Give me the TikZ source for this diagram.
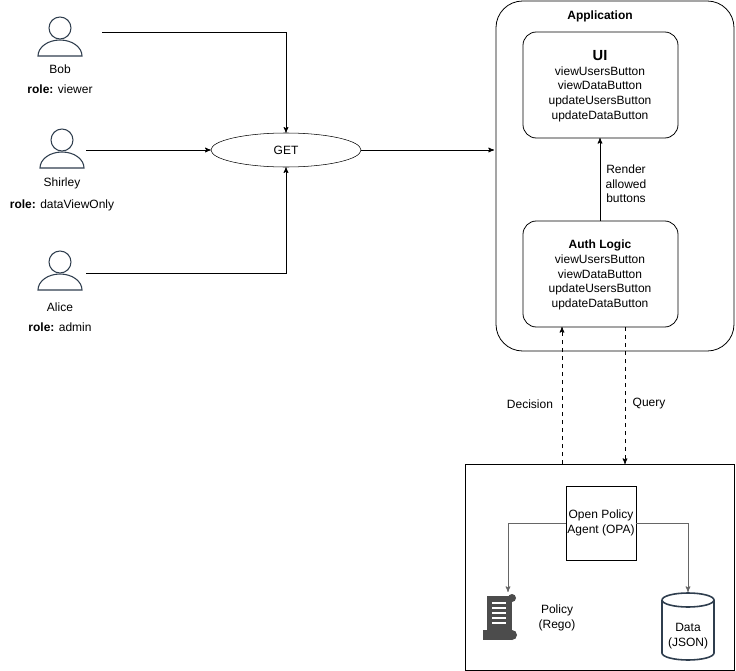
\documentclass[tikz,border=0pt]{standalone}
\usepackage{fontspec}
\setmainfont{Liberation Sans}
\usetikzlibrary{positioning}
\usetikzlibrary{arrows}
\usetikzlibrary{shapes.geometric}
\definecolor{iconc}{HTML}{2F3E4E}

\begin{document}
\begin{tikzpicture}
			[x=0.75pt,y=-0.75pt,
			 every node/.style={font=\fontsize{9}{11}\selectfont,inner sep=0},
			 connect/.style={semithick,->,>=stealth'},
			 opa/.style={semithick,->,>=stealth',draw=black!60},
			 box/.style={draw,rounded corners=10pt,semithick},
			 txt/.style={align=center}]
			\useasboundingbox (0,0) rectangle (736,671);
			% users
			\foreach \nm/\px/\py in {bob/60/28,shirley/62/140,alice/60/262}{
			  \draw[iconc,thick] (\px,\py) circle (11);
			  \draw[iconc,thick] (\px-22,\py+28) arc (180:360:22 and 16) -- cycle;
			  \coordinate (\nm) at (\px,\py);
			}
			\node (bobn) at (60,69) {Bob};
			\node (bobr) [below=8pt of bobn] {\textbf{role:} viewer};
			\node (shn) at (62,183) {Shirley};
			\node (shr) [below=8pt of shn] {\textbf{role:} dataViewOnly};
			\node (aln) at (60,307) {Alice};
			\node (alr) [below=8pt of aln] {\textbf{role:} admin};
			\coordinate (bobo) at (102,32);
			\coordinate (sho) at (86,150);
			\coordinate (alo) at (86,273);

			\node (get) [draw,ellipse,minimum width=150*0.75pt,minimum height=34*0.75pt] at (286,150) {GET};
			\draw [connect] (bobo) -| (get.north);
			\draw [connect] (sho) -- (get.west);
			\draw [connect] (alo) -| (get.south);

			% application
			\draw [box,rounded corners=20pt] (496,1) rectangle (734,351);
			\coordinate (app) at (494,150);
			\node (apptitle) at (600,16) {\textbf{Application}};
			\draw [connect] (get.east) -- (app);
			\draw [box] (523,32) rectangle (678,138);
			\coordinate (uib) at (600,138);
			\node (ui) [txt] at (600,86) {{\fontsize{11}{13}\selectfont\textbf{UI}}\\viewUsersButton\\viewDataButton\\updateUsersButton\\updateDataButton};
			\draw [box] (523,221) rectangle (678,327);
			\coordinate (autht) at (600,221);
			\node (auth) [txt] at (600,275) {\textbf{Auth Logic}\\viewUsersButton\\viewDataButton\\updateUsersButton\\updateDataButton};
			\draw [connect] (autht) -- (uib);
			\node (render) [txt] at (626,184) {Render\\allowed\\buttons};

			% opa
			\draw [semithick] (465,464) rectangle (734,670);
			\coordinate (dec0) at (562,464);
			\coordinate (dec1) at (562,327);
			\coordinate (q0) at (625,327);
			\coordinate (q1) at (625,464);
			\draw [connect,dashed] (dec0) -- (dec1);
			\draw [connect,dashed] (q0) -- (q1);
			\node (decision) at (530,404) {Decision};
			\node (query) at (649,404) {Query};
			\node (opa) [draw,semithick,txt,minimum width=70*0.75pt,minimum height=74*0.75pt] at (601,523) {Open Policy\\Agent (OPA)};
			\coordinate (pol) at (508,592);
			\coordinate (dat) at (688,592);
			\draw [opa] (opa.west) -| (pol);
			\draw [opa] (opa.east) -| (dat);

			% policy icon
			\fill [black!70] (487,596) rectangle (512,632);
			\fill [black!70] (512,598) circle (4);
			\fill [black!70] (483,630) rectangle (512,640);
			\fill [black!70] (512,635) circle (5);
			\foreach \ly in {603,608,613,618,623}
			  \draw [white,thick] (492,\ly) -- (506,\ly);
			\node (policy) [txt] at (557,618) {Policy\\(Rego)};
			% data icon
			\draw [iconc,very thick] (662,600) arc (180:-180:26 and 7);
			\draw [iconc,very thick] (662,600) -- (662,653) arc (180:0:26 and 7) -- (714,600);
			\node (data) [txt] at (688,636) {Data\\(JSON)};
\end{tikzpicture}
\end{document}
